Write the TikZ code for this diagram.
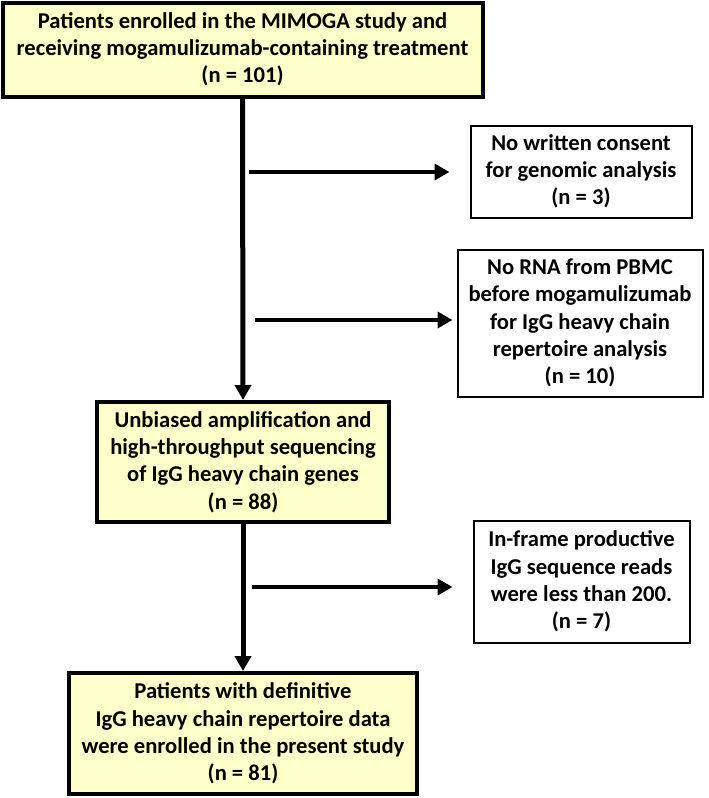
\documentclass[tikz,border=0pt]{standalone}
\usepackage{fontspec}
\setmainfont{Carlito}
\usetikzlibrary{arrows.meta}
\definecolor{boxyellow}{RGB}{255,255,204}
\tikzset{
  mainbox/.style={draw=black, line width=4pt, fill=boxyellow, align=center, inner sep=0pt,
    font=\fontsize{22.6}{27.2}\selectfont\bfseries},
  sidebox/.style={draw=black, line width=2pt, fill=white, align=center, inner sep=0pt,
    font=\fontsize{22.6}{27.2}\selectfont\bfseries},
  flow/.style={line width=5pt, -{Triangle[length=15pt,width=16pt]}},
  excl/.style={line width=4.5pt, -{Triangle[length=15pt,width=16pt]}}
}
\begin{document}
\begin{tikzpicture}[x=1pt,y=-1pt]
\useasboundingbox (0,0) rectangle (709,798);
\node[mainbox, minimum width=480pt, minimum height=94pt] (b1) at (242.5,49.5)
  {Patients enrolled in the MIMOGA study and\\receiving mogamulizumab-containing treatment\\(n = 101)};
\node[mainbox, minimum width=292pt, minimum height=120pt] (b2) at (243,462)
  {Unbiased amplification and\\high-throughput sequencing\\of IgG heavy chain genes\\(n = 88)};
\node[mainbox, minimum width=348pt, minimum height=121pt] (b3) at (243,733.5)
  {Patients with definitive\\IgG heavy chain repertoire data\\were enrolled in the present study\\(n = 81)};
\node[sidebox, minimum width=221pt, minimum height=92pt] (e1) at (581,171.5)
  {No written consent\\for genomic analysis\\(n = 3)};
\node[sidebox, minimum width=245pt, minimum height=147pt] (e2) at (580,323)
  {No RNA from PBMC\\before mogamulizumab\\for IgG heavy chain\\repertoire analysis\\(n = 10)};
\node[sidebox, minimum width=216pt, minimum height=122pt] (e3) at (581.5,581.5)
  {In-frame productive\\IgG sequence reads\\were less than 200.\\(n = 7)};
\draw[flow] (b1.south) -- (b2.north);
\draw[flow] (b2.south) -- (b3.north);
\coordinate (s1) at (249,172);
\coordinate (s2) at (255,320);
\coordinate (s3) at (252,587);
\draw[excl] (s1) -- ([xshift=-20pt] s1 -| e1.west);
\draw[excl] (s2) -- ([xshift=-4pt] s2 -| e2.west);
\draw[excl] (s3) -- ([xshift=-20pt] s3 -| e3.west);
\end{tikzpicture}
\end{document}
